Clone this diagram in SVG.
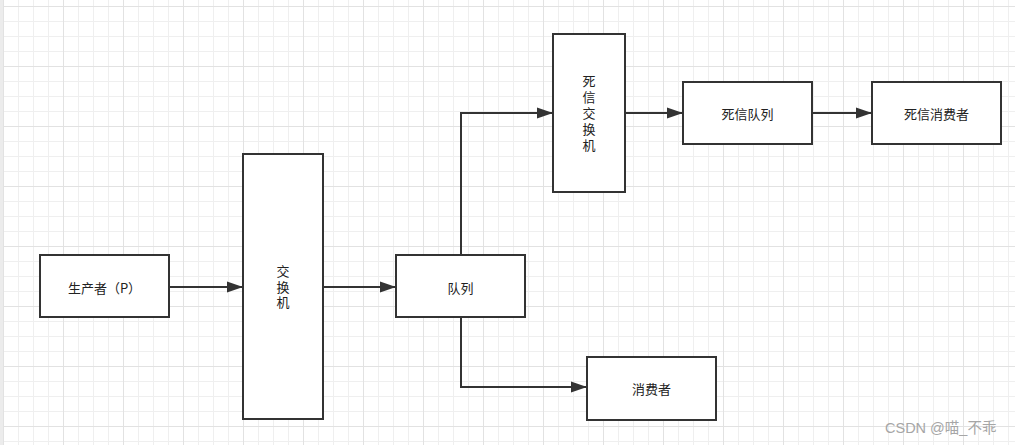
<svg xmlns="http://www.w3.org/2000/svg" width="1015" height="445" viewBox="0 0 1015 445">
  <defs>
    <pattern id="minor" x="3" y="6" width="15" height="15" patternUnits="userSpaceOnUse">
      <path d="M0.5 0V15M0 0.5H15" stroke="#efefef" stroke-width="1" fill="none"/>
    </pattern>
    <pattern id="major" x="3" y="6" width="60" height="60" patternUnits="userSpaceOnUse">
      <path d="M0.5 0V60M0 0.5H60" stroke="#e2e2e2" stroke-width="1" fill="none"/>
    </pattern>
    <marker id="arrow" markerWidth="16" markerHeight="12" refX="16" refY="6" orient="auto" markerUnits="userSpaceOnUse">
      <path d="M0 0.5L16 6L0 11.5Z" fill="#333"/>
    </marker>
    <style>
      .box { fill: #fff; stroke: #333; stroke-width: 2; }
      .lbl { font-family: "Noto Sans CJK SC", "Liberation Sans", sans-serif; font-size: 13px; fill: #222; text-anchor: middle; dominant-baseline: central; }
      .vlbl { font-family: "Noto Sans CJK SC", "Liberation Sans", sans-serif; font-size: 13px; fill: #222; text-anchor: middle; writing-mode: vertical-rl; letter-spacing: 2.5px; }
      .edge { fill: none; stroke: #333; stroke-width: 2; marker-end: url(#arrow); }
      .wm { font-family: "Liberation Sans", "Noto Sans CJK SC", sans-serif; font-size: 14.5px; fill: #a6a6a6; }
    </style>
  </defs>
  <rect width="1015" height="445" fill="#fff"/>
  <rect width="1015" height="445" fill="url(#minor)"/>
  <rect width="1015" height="445" fill="url(#major)"/>
  <rect x="0" y="0" width="3" height="445" fill="#ececec"/>

  <g id="connectors">
    <path class="edge" d="M169 287H243"/>
    <path class="edge" d="M323 287H396"/>
    <path class="edge" d="M461 255V113H553"/>
    <path class="edge" d="M461 318V387H587"/>
    <path class="edge" d="M625 113H683"/>
    <path class="edge" d="M812 113H872"/>
  </g>

  <g id="producer">
    <rect class="box" x="40" y="255" width="129" height="62"/>
    <text class="lbl" x="104.5" y="287">生产者（P）</text>
  </g>
  <g id="exchange">
    <rect class="box" x="243" y="154" width="80" height="265"/>
    <text class="vlbl" x="283" y="288">交换机</text>
  </g>
  <g id="queue">
    <rect class="box" x="396" y="255" width="129" height="62"/>
    <text class="lbl" x="460.5" y="287">队列</text>
  </g>
  <g id="dlx">
    <rect class="box" x="553" y="34" width="72" height="158"/>
    <text class="vlbl" x="589" y="114.5" style="letter-spacing:3px">死信交换机</text>
  </g>
  <g id="dlq">
    <rect class="box" x="683" y="82" width="129" height="62"/>
    <text class="lbl" x="747.5" y="113">死信队列</text>
  </g>
  <g id="dl-consumer">
    <rect class="box" x="872" y="82" width="129" height="62"/>
    <text class="lbl" x="936.5" y="113">死信消费者</text>
  </g>
  <g id="consumer">
    <rect class="box" x="587" y="357" width="129" height="63"/>
    <text class="lbl" x="651.5" y="388.5">消费者</text>
  </g>

  <text class="wm" x="885" y="433">CSDN @喵_不乖</text>
</svg>
